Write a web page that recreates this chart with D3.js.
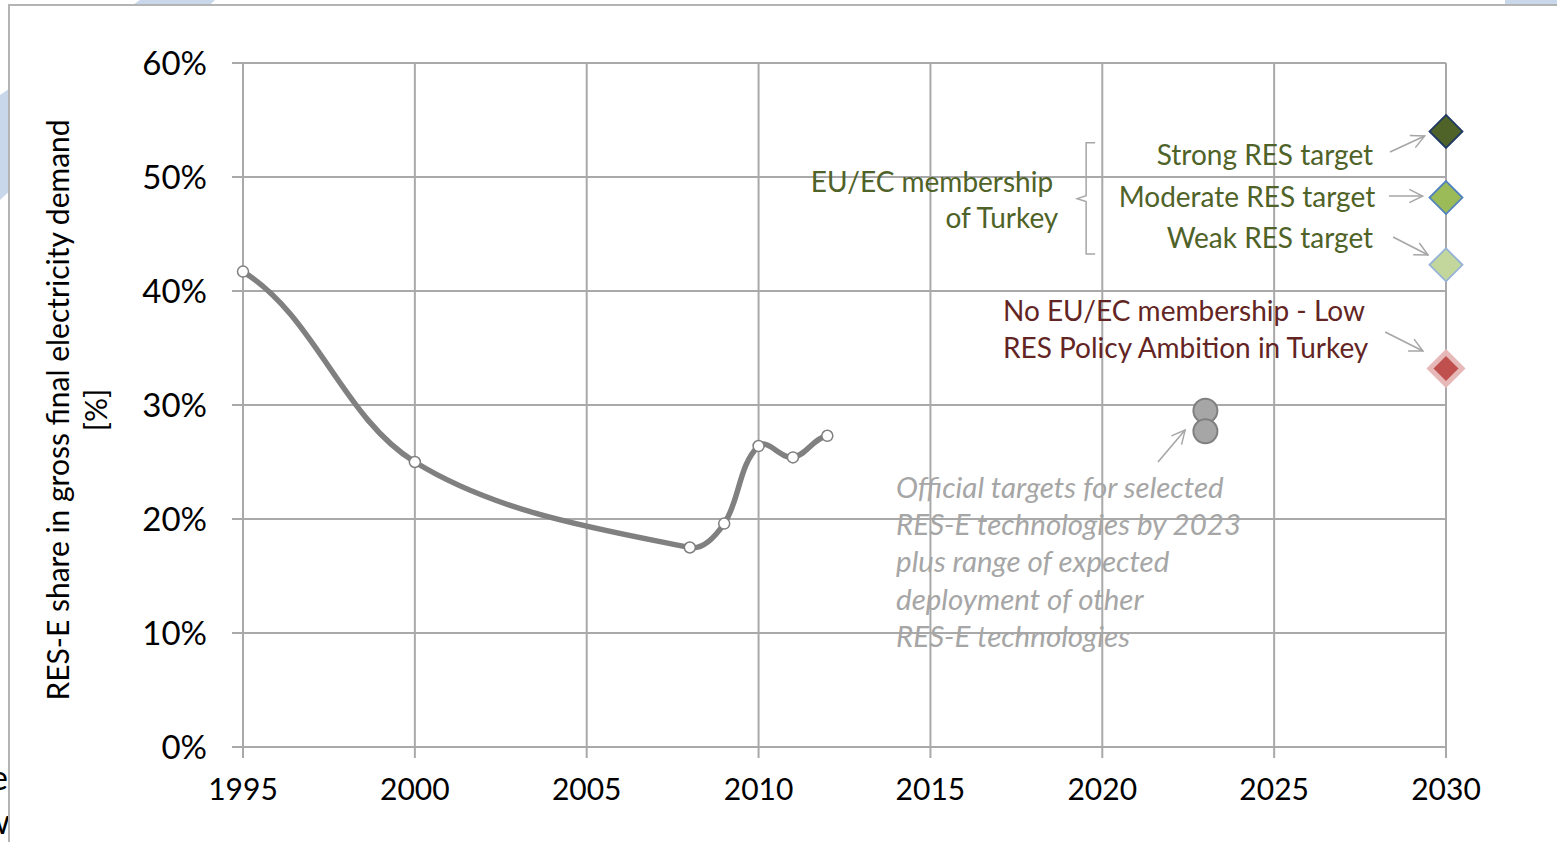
<!DOCTYPE html>
<html>
<head>
<meta charset="utf-8">
<script src="https://cdn.jsdelivr.net/npm/d3@7"></script>
<style>
  html, body { margin: 0; padding: 0; background: #fff; }
  svg { display: block; }
  text { font-family: Lato, "Open Sans", sans-serif; }
</style>
</head>
<body>
<svg id="chart" width="1557" height="842"></svg>
<script>
// Historic RES-E share (years and values, %)
const histYears = [1995, 2000, 2008, 2009, 2010, 2011, 2012];
const histShare = [41.7, 25.0, 17.5, 19.6, 26.4, 25.4, 27.3];

// Official 2023 targets (range)
const targetYear2023 = 2023;
const targets2023 = [29.5, 27.7];

// 2030 scenario values
const scenarioYear = 2030;
const scenarioNames = ["Strong RES target", "Moderate RES target", "Weak RES target", "Low RES Policy Ambition"];
const scenarioShare = [54.0, 48.2, 42.3, 33.2];
const scenarioFill = ["#4f6228", "#9bbb59", "#c3d69b", "#c0504d"];
const scenarioStroke = ["#1f3864", "#4f81bd", "#95b3d7", "#e6b9b8"];

// Axis ticks
const xTicks = [1995, 2000, 2005, 2010, 2015, 2020, 2025, 2030];
const yTicks = [0, 10, 20, 30, 40, 50, 60];

const svg = d3.select("#chart");

// Page background with decorative band behind the chart frame
svg.append("rect").attr("width", 1557).attr("height", 842).attr("fill", "#fff");
svg.append("polygon").attr("points", "140,0 215,0 0,200 0,95").attr("fill", "#c9d7ea");
svg.append("polygon").attr("points", "1505,0 1557,0 1557,8 1505,8").attr("fill", "#c9d7ea");
svg.append("text").attr("x", 8).attr("y", 790).attr("text-anchor", "end")
  .attr("font-size", 34).attr("fill", "#000").text("e");
svg.append("text").attr("x", 10).attr("y", 834).attr("text-anchor", "end")
  .attr("font-size", 34).attr("fill", "#000").text("w");

// Chart frame
svg.append("rect").attr("x", 9).attr("y", 5).attr("width", 1600).attr("height", 900)
  .attr("fill", "#fff").attr("stroke", "#b4b4b4").attr("stroke-width", 2);

const x = d3.scaleLinear().domain([1995, 2030]).range([243, 1446]);
const y = d3.scaleLinear().domain([0, 60]).range([747, 63]);

const gridColor = "#a9a9a9";

// Horizontal gridlines (with outward tick)
svg.append("g").selectAll("line").data(yTicks).join("line")
  .attr("x1", x(1995) - 11).attr("x2", x(2030))
  .attr("y1", d => y(d)).attr("y2", d => y(d))
  .attr("stroke", gridColor).attr("stroke-width", 2);

// Vertical gridlines (with outward tick)
svg.append("g").selectAll("line").data(xTicks).join("line")
  .attr("x1", d => x(d)).attr("x2", d => x(d))
  .attr("y1", y(60)).attr("y2", y(0) + 11)
  .attr("stroke", gridColor).attr("stroke-width", 2);

// Tick labels
svg.append("g").selectAll("text").data(yTicks).join("text")
  .attr("x", 207).attr("y", d => y(d) + 12)
  .attr("text-anchor", "end").attr("font-size", 33).attr("fill", "#000")
  .text(d => d + "%");

svg.append("g").selectAll("text").data(xTicks).join("text")
  .attr("x", d => x(d)).attr("y", 800)
  .attr("text-anchor", "middle").attr("font-size", 30).attr("fill", "#000")
  .text(d => d);

// Y axis title
const yTitle = svg.append("text")
  .attr("transform", "translate(69," + 410 + ") rotate(-90)")
  .attr("text-anchor", "middle").attr("font-size", 30).attr("fill", "#000");
yTitle.append("tspan").attr("x", 0).attr("dy", 0).text("RES-E share in gross final electricity demand");
yTitle.append("tspan").attr("x", 0).attr("dy", 38).text("[%]");

// Historic smoothed line: Bezier segments whose tangents follow the
// neighbouring points and whose handle lengths scale with each segment
const hist = histYears.map((yr, i) => [yr, histShare[i]]);
const pts = hist.map(d => [x(d[0]), y(d[1])]);
const n = pts.length;
const dir = pts.map((p, i) => {
  const a = pts[Math.max(0, i - 1)], b = pts[Math.min(n - 1, i + 1)];
  const dx = b[0] - a[0], dy = b[1] - a[1], L = Math.hypot(dx, dy);
  return [dx / L, dy / L];
});
dir[0] = dir[1].slice();
dir[n - 1] = dir[n - 2].slice();
const smooth = d3.path();
smooth.moveTo(pts[0][0], pts[0][1]);
for (let i = 0; i < n - 1; i++) {
  const p = pts[i], q = pts[i + 1];
  const h = Math.hypot(q[0] - p[0], q[1] - p[1]) / 3;
  smooth.bezierCurveTo(p[0] + dir[i][0] * h, p[1] + dir[i][1] * h,
    q[0] - dir[i + 1][0] * h, q[1] - dir[i + 1][1] * h, q[0], q[1]);
}
svg.append("path").attr("d", smooth.toString())
  .attr("fill", "none").attr("stroke", "#808080").attr("stroke-width", 5.5);
svg.append("g").selectAll("circle").data(hist).join("circle")
  .attr("cx", d => x(d[0])).attr("cy", d => y(d[1])).attr("r", 5.5)
  .attr("fill", "#fff").attr("stroke", "#7f7f7f").attr("stroke-width", 1.5);

// 2023 official target range
svg.append("g").selectAll("circle").data(targets2023).join("circle")
  .attr("cx", x(targetYear2023)).attr("cy", d => y(d)).attr("r", 12)
  .attr("fill", "#a6a6a6").attr("stroke", "#808080").attr("stroke-width", 2);

// 2030 scenario diamonds
const dia = (cx, cy, h) => `M${cx},${cy - h}L${cx + h},${cy}L${cx},${cy + h}L${cx - h},${cy}Z`;
svg.append("g").selectAll("path").data(scenarioShare).join("path")
  .attr("d", (d, i) => dia(x(scenarioYear), y(d), i === 3 ? 16 : 16.5))
  .attr("fill", (d, i) => scenarioFill[i])
  .attr("stroke", (d, i) => scenarioStroke[i])
  .attr("stroke-width", (d, i) => i === 3 ? 5 : 1.8);

// Annotation labels
const green = "#4f6228", darkRed = "#632523", gray = "#a6a6a6";
function label(t, xv, yv, anchor, color, size, italic) {
  svg.append("text").attr("x", x(xv)).attr("y", y(yv))
    .attr("text-anchor", anchor).attr("font-size", size).attr("fill", color)
    .attr("font-style", italic ? "italic" : "normal").text(t);
}
label("Strong RES target", 2027.88, 51.05, "end", green, 28);
label("Moderate RES target", 2027.94, 47.36, "end", green, 28);
label("Weak RES target", 2027.88, 43.77, "end", green, 28);
label("EU/EC membership", 2018.57, 48.68, "end", green, 28);
label("of Turkey", 2018.72, 45.53, "end", green, 28);
label("No EU/EC membership - Low", 2017.11, 37.37, "start", darkRed, 28);
label("RES Policy Ambition in Turkey", 2017.11, 34.12, "start", darkRed, 28);
const offLines = ["Official targets for selected", "RES-E technologies by 2023",
  "plus range of expected", "deployment of other", "RES-E technologies"];
offLines.forEach((t, i) => label(t, 2014.0, 21.85 - i * 3.27, "start", gray, 29.5, true));

// Bracket grouping the membership scenarios
const bx = x(2019.53), by0 = y(53.0), by1 = y(43.25), bm = y(48.1);
svg.append("path")
  .attr("d", `M${bx + 9},${by0}L${bx},${by0}L${bx},${bm - 3}L${bx - 9},${bm}L${bx},${bm + 3}L${bx},${by1}L${bx + 9},${by1}`)
  .attr("fill", "none").attr("stroke", gray).attr("stroke-width", 1.5);

// Arrows
svg.append("defs").append("marker").attr("id", "openArrow")
  .attr("viewBox", "0 0 12 12").attr("refX", 11).attr("refY", 6)
  .attr("markerWidth", 16).attr("markerHeight", 16).attr("markerUnits", "userSpaceOnUse")
  .attr("orient", "auto")
  .append("path").attr("d", "M1,1L11,6L1,11").attr("fill", "none")
  .attr("stroke", gray).attr("stroke-width", 1.1);
const arrows = [
  [[2028.37, 52.2], [2029.38, 53.6]],
  [[2028.34, 48.33], [2029.32, 48.33]],
  [[2028.46, 44.74], [2029.48, 43.16]],
  [[2028.23, 36.4], [2029.33, 34.73]],
  [[2021.62, 25.0], [2022.41, 27.8]]
];
svg.append("g").selectAll("line").data(arrows).join("line")
  .attr("x1", d => x(d[0][0])).attr("y1", d => y(d[0][1]))
  .attr("x2", d => x(d[1][0])).attr("y2", d => y(d[1][1]))
  .attr("stroke", gray).attr("stroke-width", 1.6).attr("marker-end", "url(#openArrow)");
</script>
</body>
</html>
